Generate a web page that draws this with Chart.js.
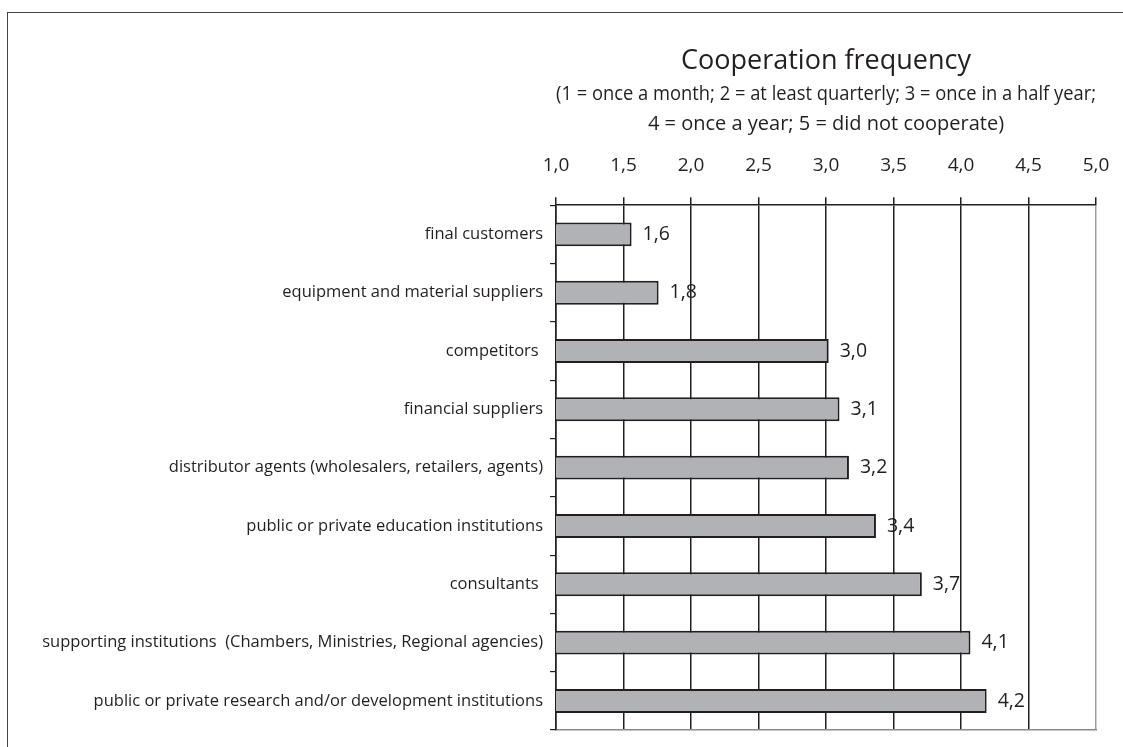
<!DOCTYPE html>
<html>
<head>
<meta charset="utf-8">
<title>Cooperation frequency</title>
<script src="https://cdn.jsdelivr.net/npm/chart.js@4"></script>
<style>
  html, body { margin: 0; padding: 0; background: #fff; }
  #wrap { position: relative; width: 1123px; height: 747px; overflow: hidden; }
  #frame { position: absolute; left: 7px; top: 12px; width: 1200px; height: 800px;
           border-left: 1px solid #444; border-top: 1px solid #444; }
  #chart { position: absolute; left: 0; top: 0; }
</style>
</head>
<body>
<div id="wrap">
  <div id="frame"></div>
  <canvas id="chart" width="1123" height="747"></canvas>
</div>
<script>
'use strict';

// --- data ---
const categories = [
  'final customers',
  'equipment and material suppliers',
  'competitors ',
  'financial suppliers',
  'distributor agents (wholesalers, retailers, agents)',
  'public or private education institutions',
  'consultants ',
  'supporting institutions  (Chambers, Ministries, Regional agencies)',
  'public or private research and/or development institutions'
];
const frequency = [1.56, 1.76, 3.02, 3.10, 3.17, 3.37, 3.71, 4.07, 4.19];
const xTicks = [1.0, 1.5, 2.0, 2.5, 3.0, 3.5, 4.0, 4.5, 5.0];
const titleText = 'Cooperation frequency';
const subtitleLines = [
  '(1 = once a month; 2 = at least quarterly; 3 = once in a half year;',
  '4 = once a year; 5 = did not cooperate)'
];

const ink = '#231f20';
const fontFamily = '"Open Sans", "Noto Sans", sans-serif';
const comma = v => v.toFixed(1).replace('.', ',');

// value labels right of each bar
const barValues = {
  id: 'barValues',
  afterDatasetsDraw(chart) {
    const { ctx } = chart;
    const meta = chart.getDatasetMeta(0);
    ctx.save();
    ctx.font = '19.5px ' + fontFamily;
    ctx.fillStyle = ink;
    ctx.textAlign = 'left';
    ctx.textBaseline = 'middle';
    meta.data.forEach((bar, i) => {
      ctx.fillText(comma(frequency[i]), bar.x + 11, bar.y);
    });
    ctx.restore();
  }
};

new Chart(document.getElementById('chart'), {
  type: 'bar',
  data: {
    labels: categories,
    datasets: [{
      data: frequency,
      backgroundColor: '#b1b2b5',
      borderColor: ink,
      borderWidth: 2,
      borderSkipped: false,
      barPercentage: 0.41,
      categoryPercentage: 1
    }]
  },
  options: {
    indexAxis: 'y',
    responsive: false,
    animation: false,
    layout: { padding: { top: 45, right: 27, bottom: 15, left: 0 } },
    plugins: {
      legend: { display: false },
      tooltip: { enabled: false },
      title: {
        display: true,
        text: titleText,
        fullSize: false,
        color: ink,
        font: { family: fontFamily, size: 27, weight: 'normal', lineHeight: 1.2 },
        padding: { top: 0, bottom: 0 }
      },
      subtitle: {
        display: true,
        text: subtitleLines,
        fullSize: false,
        color: ink,
        font: { family: fontFamily, size: 20, weight: 'normal', lineHeight: 1.5 },
        padding: { top: 2, bottom: 0 }
      }
    },
    scales: {
      x: {
        type: 'linear',
        position: 'top',
        min: 1,
        max: 5,
        afterBuildTicks: scale => { scale.ticks = xTicks.map(value => ({ value })); },
        afterFit: scale => {
          scale.height -= 5;
          scale.paddingRight = 0;
          scale.paddingLeft = 0;
        },
        ticks: {
          color: ink,
          padding: 20,
          font: { family: fontFamily, size: 19 },
          callback: v => comma(v)
        },
        grid: {
          color: c => (c.tick && c.tick.value === 5 ? '#9d9d9d' : ink),
          lineWidth: 1.5,
          tickLength: 8,
          tickColor: ink
        },
        border: { color: ink, width: 1.5 }
      },
      xBottom: {
        type: 'linear',
        position: 'bottom',
        min: 1,
        max: 5,
        ticks: { display: false },
        grid: { display: false, drawTicks: false },
        border: { color: '#8a8a8a', width: 1.5 }
      },
      y: {
        type: 'category',
        offset: true,
        afterFit: scale => { scale.width = 556; },
        ticks: {
          color: ink,
          padding: 7,
          font: { family: fontFamily, size: 16.5 }
        },
        grid: {
          offset: true,
          drawOnChartArea: false,
          tickLength: 6,
          tickColor: ink,
          lineWidth: 1.2
        },
        border: { color: ink, width: 1.5 }
      }
    }
  },
  plugins: [barValues]
});
</script>
</body>
</html>
